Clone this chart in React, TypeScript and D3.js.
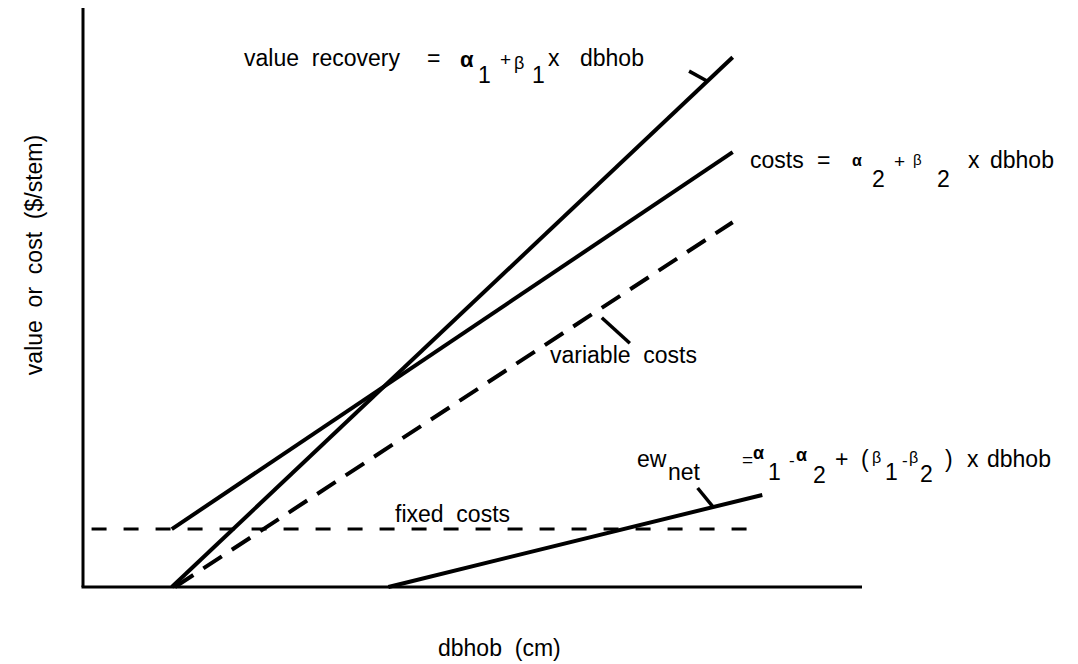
import React from "react";
import * as d3 from "d3";

// Schematic values (arbitrary units, 0–100 on both axes)
const valueRecovery: [number, number][] = [[11.4, 0], [83.4, 91.5]];
const costs: [number, number][] = [[11.4, 10.0], [83.4, 75.1]];
const variableCosts: [number, number][] = [[11.8, 0], [83.4, 63.0]];
const fixedCosts: [number, number][] = [[1.1, 10.0], [87.2, 10.0]];
const ewNet: [number, number][] = [[39.2, 0], [87.2, 15.9]];

// Leader ticks linking labels to lines
const leaderValue: [number, number][] = [[77.8, 89.1], [80.1, 87.4]];
const leaderVariable: [number, number][] = [[66.6, 46.5], [70.2, 42.1]];
const leaderEw: [number, number][] = [[78.9, 17.1], [80.9, 13.8]];

const xTitle = "dbhob  (cm)";
const yTitle = "value  or  cost  ($/stem)";

const W = 1078;
const H = 664;
const FONT = "'Liberation Sans', Arial, Helvetica, sans-serif";

export default function App() {
  const x = d3.scaleLinear().domain([0, 100]).range([83, 862]);
  const y = d3.scaleLinear().domain([0, 100]).range([587, 8]);
  const line = d3
    .line<[number, number]>()
    .x((d) => x(d[0]))
    .y((d) => y(d[1]));

  const solid = { fill: "none", stroke: "#000", strokeWidth: 4, strokeLinecap: "butt" as const };
  const T = (px: number, py: number, s: string, size = 23, extra: any = {}) => (
    <text
      x={px}
      y={py}
      fontSize={size}
      fontFamily={FONT}
      fill="#000"
      style={{ whiteSpace: "pre" }}
      {...extra}
    >
      {s}
    </text>
  );

  return (
    <svg width={W} height={H} style={{ position: "absolute", left: 0, top: 0, background: "#fff" }}>
      <rect width={W} height={H} fill="#fff" />
      {/* axes */}
      <line x1={x(0)} y1={y(100)} x2={x(0)} y2={y(0)} stroke="#000" strokeWidth={3} />
      <line x1={x(0) - 1.5} y1={y(0)} x2={x(100)} y2={y(0)} stroke="#000" strokeWidth={3} />

      {/* series */}
      <path d={line(fixedCosts)!} fill="none" stroke="#000" strokeWidth={3} strokeDasharray="15 17" />
      <path d={line(variableCosts)!} fill="none" stroke="#000" strokeWidth={4} strokeDasharray="22 12" />
      <path d={line(costs)!} {...solid} />
      <path d={line(valueRecovery)!} {...solid} />
      <path d={line(ewNet)!} {...solid} />

      {/* leaders */}
      <path d={line(leaderValue)!} {...solid} strokeWidth={3.5} />
      <path d={line(leaderVariable)!} {...solid} strokeWidth={3.5} />
      <path d={line(leaderEw)!} {...solid} strokeWidth={3.5} />

      {/* value recovery label */}
      {T(244, 66, "value  recovery")}
      {T(427, 66, "=")}
      {T(460, 67, "α", 22, { fontWeight: "bold" })}
      {T(478, 83, "1")}
      {T(500, 66, "+", 19)}
      {T(514, 69, "β", 18)}
      {T(532, 83, "1")}
      {T(548, 66, "x")}
      {T(580, 66, "dbhob")}

      {/* costs label */}
      {T(750, 168, "costs")}
      {T(817, 168, "=")}
      {T(852, 166, "α", 16, { fontWeight: "bold" })}
      {T(872, 187, "2")}
      {T(894, 168, "+", 19)}
      {T(913, 165, "β", 15)}
      {T(937, 187, "2")}
      {T(968, 168, "x")}
      {T(990, 168, "dbhob")}

      {/* variable costs / fixed costs */}
      {T(550, 363, "variable  costs")}
      {T(395, 522, "fixed  costs")}

      {/* ew_net label */}
      {T(637, 467, "ew")}
      {T(668, 480, "net")}
      {T(742, 466, "=", 19)}
      {T(753, 459, "α", 18, { fontWeight: "bold" })}
      {T(768, 480, "1")}
      {T(789, 466, "-", 17)}
      {T(796, 461, "α", 18, { fontWeight: "bold" })}
      {T(813, 483, "2")}
      {T(835, 467, "+")}
      {T(861, 467, "(")}
      {T(872, 463, "β", 16)}
      {T(885, 480, "1")}
      {T(902, 466, "-", 17)}
      {T(909, 463, "β", 16)}
      {T(920, 482, "2")}
      {T(945, 467, ")")}
      {T(967, 467, "x")}
      {T(987, 467, "dbhob")}

      {/* axis titles */}
      {T(438, 656, xTitle)}
      <text
        transform={`translate(42, 255) rotate(-90)`}
        textAnchor="middle"
        fontSize={23}
        fontFamily={FONT}
        style={{ whiteSpace: "pre" }}
      >
        {yTitle}
      </text>
    </svg>
  );
}
